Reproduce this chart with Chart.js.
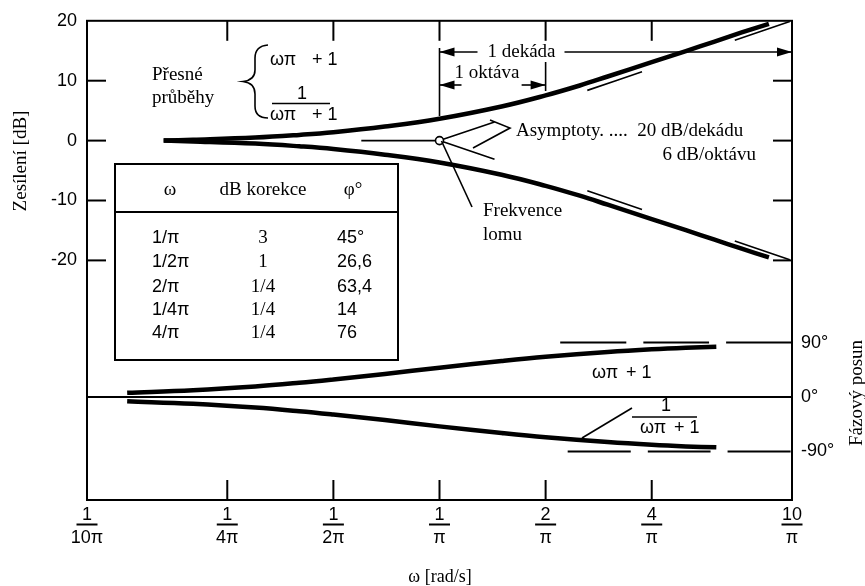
<!DOCTYPE html>
<html>
<head>
<meta charset="utf-8">
<script src="https://cdn.jsdelivr.net/npm/chart.js@4/dist/chart.umd.min.js"></script>
<style>
  html, body { margin: 0; padding: 0; background: #fff; }
  #wrap { width: 865px; height: 586px; }
</style>
</head>
<body>
<div id="wrap"><canvas id="bode" width="865" height="586"></canvas></div>
<script>
// frequency is given as ωπ, so 1 = break frequency 1/π
const freqTicks = [0.1, 0.25, 0.5, 1, 2, 4, 10];
const freqLabels = [['1', '10π'], ['1', '4π'], ['1', '2π'], ['1', 'π'], ['2', 'π'], ['4', 'π'], ['10', 'π']];
const gainTicks = [20, 10, 0, -10, -20];
const phaseTicks = [90, 0, -90];

// exact gain curves (dB)
const gainFreq = [0.165, 0.2, 0.3, 0.4, 0.5, 0.7, 1, 1.5, 2, 2.5, 3, 4, 5, 6, 7.2, 8.6];
const gainUp = [0, 0.13, 0.5, 0.95, 1.4, 2.35, 3.65, 5.7, 7.55, 9.2, 10.7, 13.1, 14.95, 16.5, 18.05, 19.5];
const gainDown = [0, -0.13, -0.5, -0.95, -1.4, -2.35, -3.65, -5.7, -7.55, -9.2, -10.7, -13.1, -14.95, -16.5, -18.05, -19.5];

// exact phase curves (deg)
const phaseFreq = [0.13, 0.2, 0.3, 0.4, 0.5, 0.7, 1, 1.5, 2, 3, 4, 5, 6.1];
const phaseUp = [7, 11.3, 17.5, 23.5, 29, 38, 48.5, 59.5, 66.5, 74.5, 79, 81.6, 83.2];
const phaseDown = [-7, -11.3, -17.5, -23.5, -29, -38, -48.5, -59.5, -66.5, -74.5, -79, -81.6, -83.2];

// asymptotes
const flatFreq = [0.6, 1];
const flatGain = [0, 0];
const asymFreq = [1, 10];
const asymUp = [0, 20];
const asymDown = [0, -20];
const breakFreq = [1];
const breakGain = [0];

// phase reference lines
const zeroFreq = [0.1, 10];
const zeroPhase = [0, 0];
const plus90Freq = [2.2, 10];
const plus90 = [90, 90];
const minus90Freq = [2.31, 10];
const minus90 = [-90, -90];

// correction table
const tableOmega = ['1/π', '1/2π', '2/π', '1/4π', '4/π'];
const tableDb = ['3', '1', '1/4', '1/4', '1/4'];
const tablePhi = ['45°', '26,6', '63,4', '14', '76'];

const SANS = '"Liberation Sans", Arial, sans-serif';
const SERIF = '"Liberation Serif", "Times New Roman", serif';

const pts = (xs, ys) => xs.map((x, i) => ({ x: x, y: ys[i] }));

const line = (xs, ys, axis, width, dash) => ({
    data: pts(xs, ys),
    yAxisID: axis,
    borderColor: '#000',
    borderWidth: width,
    borderDash: dash || [],
    pointRadius: 0,
    fill: false,
    tension: 0.4,
});

const arrowHead = (ctx, x, y, dir) => {
    ctx.beginPath();
    ctx.moveTo(x, y);
    ctx.lineTo(x - dir * 15, y - 4.5);
    ctx.lineTo(x - dir * 15, y + 4.5);
    ctx.closePath();
    ctx.fill();
};

const seg = (ctx, pairs, w) => {
    ctx.lineWidth = w;
    ctx.beginPath();
    ctx.moveTo(pairs[0][0], pairs[0][1]);
    for (let i = 1; i < pairs.length; i++) ctx.lineTo(pairs[i][0], pairs[i][1]);
    ctx.stroke();
};

const text = (ctx, s, x, y, font, align) => {
    ctx.font = font;
    ctx.textAlign = align || 'left';
    ctx.textBaseline = 'middle';
    ctx.fillText(s, x, y);
};

const decorations = {
    id: 'decorations',
    afterDraw(chart) {
        const ctx = chart.ctx;
        const a = chart.chartArea;
        const xs = chart.scales.x;
        const ys = chart.scales.y;
        ctx.save();
        ctx.strokeStyle = '#000';
        ctx.fillStyle = '#000';
        ctx.lineCap = 'butt';

        // frame
        ctx.lineWidth = 2;
        ctx.strokeRect(a.left, a.top, a.right - a.left, a.bottom - a.top);

        // inward tick marks
        freqTicks.slice(1, -1).forEach(v => {
            const px = xs.getPixelForValue(v);
            seg(ctx, [[px, a.top], [px, a.top + 20]], 2);
            seg(ctx, [[px, a.bottom], [px, a.bottom - 20]], 2);
        });
        gainTicks.slice(1).forEach(v => {
            const py = ys.getPixelForValue(v);
            seg(ctx, [[a.left, py], [a.left + 19, py]], 2);
            seg(ctx, [[a.right, py], [a.right - 19, py]], 2);
        });

        // fraction bars under tick numerators
        freqTicks.forEach(v => {
            const px = xs.getPixelForValue(v);
            seg(ctx, [[px - 10.5, 524.5], [px + 10.5, 524.5]], 2);
        });

        // axis titles
        ctx.save();
        ctx.translate(21, 161);
        ctx.rotate(-Math.PI / 2);
        text(ctx, 'Zesílení [dB]', 0, 0, '19px ' + SERIF, 'center');
        ctx.restore();
        ctx.save();
        ctx.translate(857, 393);
        ctx.rotate(-Math.PI / 2);
        text(ctx, 'Fázový posun', 0, 0, '19px ' + SERIF, 'center');
        ctx.restore();
        text(ctx, 'ω [rad/s]', 440, 577, '18px ' + SERIF, 'center');

        // exact curves label with brace
        text(ctx, 'Přesné', 152, 75, '19px ' + SERIF);
        text(ctx, 'průběhy', 152, 98, '19px ' + SERIF);
        ctx.lineWidth = 1.6;
        ctx.beginPath();
        ctx.moveTo(268, 45);
        ctx.quadraticCurveTo(255, 46, 255, 58);
        ctx.lineTo(255, 70);
        ctx.quadraticCurveTo(255, 80, 243, 81.5);
        ctx.quadraticCurveTo(255, 83, 255, 94);
        ctx.lineTo(255, 106);
        ctx.quadraticCurveTo(255, 118, 268, 118);
        ctx.stroke();
        text(ctx, 'ωπ', 270, 60, '18px ' + SANS);
        text(ctx, '+ 1', 312, 60, '18px ' + SANS);
        text(ctx, '1', 302, 94, '18px ' + SANS, 'center');
        seg(ctx, [[272, 103.5], [330, 103.5]], 1.6);
        text(ctx, 'ωπ', 270, 115, '18px ' + SANS);
        text(ctx, '+ 1', 312, 115, '18px ' + SANS);

        // decade / octave dimension lines
        const p1 = xs.getPixelForValue(1);
        const p2 = xs.getPixelForValue(2);
        seg(ctx, [[p1, 48], [p1, 116]], 1.6);
        seg(ctx, [[p2, 62], [p2, 91]], 1.6);
        seg(ctx, [[p1, 52], [p1 + 38, 52]], 1.6);
        seg(ctx, [[p1 + 125, 52], [a.right, 52]], 1.6);
        arrowHead(ctx, p1, 52, -1);
        arrowHead(ctx, a.right, 52, 1);
        text(ctx, '1 dekáda', p1 + 82, 52, '19px ' + SERIF, 'center');
        seg(ctx, [[p1, 85], [p1 + 22, 85]], 1.6);
        seg(ctx, [[p2 - 24, 85], [p2, 85]], 1.6);
        arrowHead(ctx, p1, 85, -1);
        arrowHead(ctx, p2, 85, 1);
        text(ctx, '1 oktáva', p1 + 15, 73, '19px ' + SERIF);

        // asymptote callout
        seg(ctx, [[490, 120], [510, 128], [473, 148]], 1.6);
        text(ctx, 'Asymptoty. ....  20 dB/dekádu', 516, 131, '19px ' + SERIF);
        text(ctx, '6 dB/oktávu', 756, 155, '19px ' + SERIF, 'right');

        // break frequency callout
        seg(ctx, [[p1 + 2, 141], [472, 207]], 1.6);
        text(ctx, 'Frekvence', 483, 211, '19px ' + SERIF);
        text(ctx, 'lomu', 483, 235, '19px ' + SERIF);

        // correction table
        ctx.lineWidth = 2;
        ctx.fillStyle = '#fff';
        ctx.fillRect(115, 164, 283, 196);
        ctx.fillStyle = '#000';
        ctx.strokeRect(115, 164, 283, 196);
        seg(ctx, [[115, 212], [398, 212]], 2);
        text(ctx, 'ω', 170, 190, '19px ' + SERIF, 'center');
        text(ctx, 'dB korekce', 263, 190, '19px ' + SERIF, 'center');
        text(ctx, 'φ°', 353, 190, '19px ' + SERIF, 'center');
        const rowsY = [238, 262, 287, 310, 333];
        rowsY.forEach((ry, i) => {
            text(ctx, tableOmega[i], 152, ry, '18px ' + SANS);
            text(ctx, tableDb[i], 263, ry, '19px ' + SERIF, 'center');
            text(ctx, tablePhi[i], 337, ry, '18px ' + SANS);
        });

        // phase labels
        text(ctx, 'ωπ', 592, 373, '18px ' + SANS);
        text(ctx, '+ 1', 626, 373, '18px ' + SANS);
        text(ctx, '1', 666, 406, '18px ' + SANS, 'center');
        seg(ctx, [[632, 417], [697, 417]], 1.6);
        text(ctx, 'ωπ', 640, 428, '18px ' + SANS);
        text(ctx, '+ 1', 674, 428, '18px ' + SANS);
        seg(ctx, [[582, 438], [632, 408]], 1.6);

        ctx.restore();
    },
};

const ctx = document.getElementById('bode').getContext('2d');
const chart = new Chart(ctx, {
    type: 'line',
    data: {
        datasets: [
            {
                data: pts(breakFreq, breakGain),
                yAxisID: 'y',
                showLine: false,
                pointRadius: 4,
                pointBackgroundColor: '#fff',
                pointBorderColor: '#000',
                pointBorderWidth: 1.6,
            },
            line(gainFreq, gainUp, 'y', 4.5),
            line(gainFreq, gainDown, 'y', 4.5),
            line(phaseFreq, phaseUp, 'y2', 4.5),
            line(phaseFreq, phaseDown, 'y2', 4.5),
            line(flatFreq, flatGain, 'y', 1.6),
            line(asymFreq, asymUp, 'y', 1.6, [58, 98]),
            line(asymFreq, asymDown, 'y', 1.6, [58, 98]),
            line(plus90Freq, plus90, 'y2', 2, [66, 17]),
            line(minus90Freq, minus90, 'y2', 2, [63, 17]),
            line(zeroFreq, zeroPhase, 'y2', 2),
        ],
    },
    options: {
        responsive: false,
        animation: false,
        events: [],
        layout: { padding: { top: 16, left: 0, right: 0, bottom: 0 } },
        plugins: {
            legend: { display: false },
            tooltip: { enabled: false },
        },
        scales: {
            x: {
                type: 'logarithmic',
                min: 0.1,
                max: 10,
                afterBuildTicks: s => { s.ticks = freqTicks.map(v => ({ value: v })); },
                afterFit: s => { s.height = 86; },
                grid: { display: false, drawTicks: false },
                border: { display: false },
                ticks: {
                    autoSkip: false,
                    maxRotation: 0,
                    padding: 4,
                    color: '#000',
                    font: { family: SANS, size: 18, lineHeight: '23px' },
                    callback: (v, i) => freqLabels[i],
                },
            },
            y: {
                position: 'left',
                min: -60,
                max: 20,
                afterBuildTicks: s => { s.ticks = gainTicks.map(v => ({ value: v })); },
                afterFit: s => { s.width = 87; },
                grid: { display: false, drawTicks: false },
                border: { display: false },
                ticks: {
                    padding: 10,
                    color: '#000',
                    font: { family: SANS, size: 18 },
                },
            },
            y2: {
                position: 'right',
                min: -170.2,
                max: 621.8,
                afterBuildTicks: s => { s.ticks = phaseTicks.map(v => ({ value: v })); },
                afterFit: s => { s.width = 73; },
                grid: { display: false, drawTicks: false },
                border: { display: false },
                ticks: {
                    padding: 9,
                    color: '#000',
                    font: { family: SANS, size: 18 },
                    callback: v => v + '°',
                },
            },
        },
    },
    plugins: [decorations],
});
</script>
</body>
</html>
